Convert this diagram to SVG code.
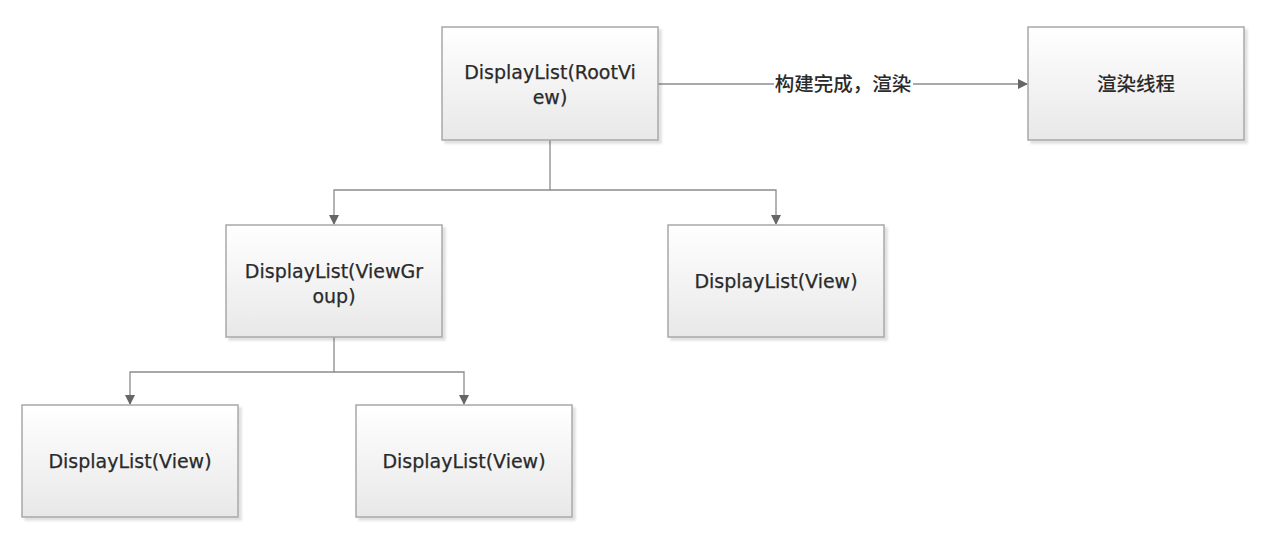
<svg xmlns="http://www.w3.org/2000/svg" width="1274" height="542" viewBox="0 0 1274 542">
<defs>
<linearGradient id="g" x1="0" y1="0" x2="0" y2="1">
<stop offset="0" stop-color="#ffffff"/>
<stop offset="1" stop-color="#e8e8e8"/>
</linearGradient>
<filter id="sh" x="-5%" y="-5%" width="115%" height="115%">
<feDropShadow dx="3" dy="3" stdDeviation="1.2" flood-color="#000" flood-opacity="0.12"/>
</filter>
<marker id="arr" markerWidth="10" markerHeight="10" refX="9" refY="5" orient="auto" markerUnits="userSpaceOnUse">
<path d="M0,0 L10,5 L0,10 Z" fill="#666"/>
</marker>
</defs>
<style>
.box{fill:url(#g);stroke:#a8a8a8;stroke-width:1.5;filter:url(#sh)}
.t{font-family:"DejaVu Sans","Noto Sans CJK SC",sans-serif;font-size:19px;fill:#2a2a2a;stroke:#2a2a2a;stroke-width:0.25;text-anchor:middle}
.z{font-family:"Noto Sans CJK SC",sans-serif;font-size:19.5px;font-weight:500;fill:#2a2a2a;text-anchor:middle}
.c{fill:none;stroke:#8c8c8c;stroke-width:1.3}
</style>
<rect width="1274" height="542" fill="#fff"/>
<g id="connectors">
<polyline class="c" points="550,140 550,190 334,190 334,224" marker-end="url(#arr)"/>
<polyline class="c" points="550,190 776,190 776,224" marker-end="url(#arr)"/>
<polyline class="c" points="334,337 334,372 130,372 130,404" marker-end="url(#arr)"/>
<polyline class="c" points="334,372 464,372 464,404" marker-end="url(#arr)"/>
<line class="c" x1="658" y1="84" x2="1027" y2="84" marker-end="url(#arr)"/>
<rect x="774" y="74" width="139" height="22" fill="#fff"/>
<text class="z" x="843" y="91">构建完成，渲染</text>
</g>
<g id="root">
<rect class="box" x="442" y="27" width="216" height="113"/>
<text class="t" x="550" y="79">DisplayList(RootVi</text>
<text class="t" x="550" y="104">ew)</text>
</g>
<g id="render">
<rect class="box" x="1028" y="27" width="216" height="113"/>
<text class="z" x="1136" y="91">渲染线程</text>
</g>
<g id="viewgroup">
<rect class="box" x="226" y="225" width="216" height="112"/>
<text class="t" x="334" y="278">DisplayList(ViewGr</text>
<text class="t" x="334" y="303">oup)</text>
</g>
<g id="view1">
<rect class="box" x="668" y="225" width="216" height="112"/>
<text class="t" x="776" y="288">DisplayList(View)</text>
</g>
<g id="view2">
<rect class="box" x="22" y="405" width="216" height="112"/>
<text class="t" x="130" y="468">DisplayList(View)</text>
</g>
<g id="view3">
<rect class="box" x="356" y="405" width="216" height="112"/>
<text class="t" x="464" y="468">DisplayList(View)</text>
</g>
</svg>
